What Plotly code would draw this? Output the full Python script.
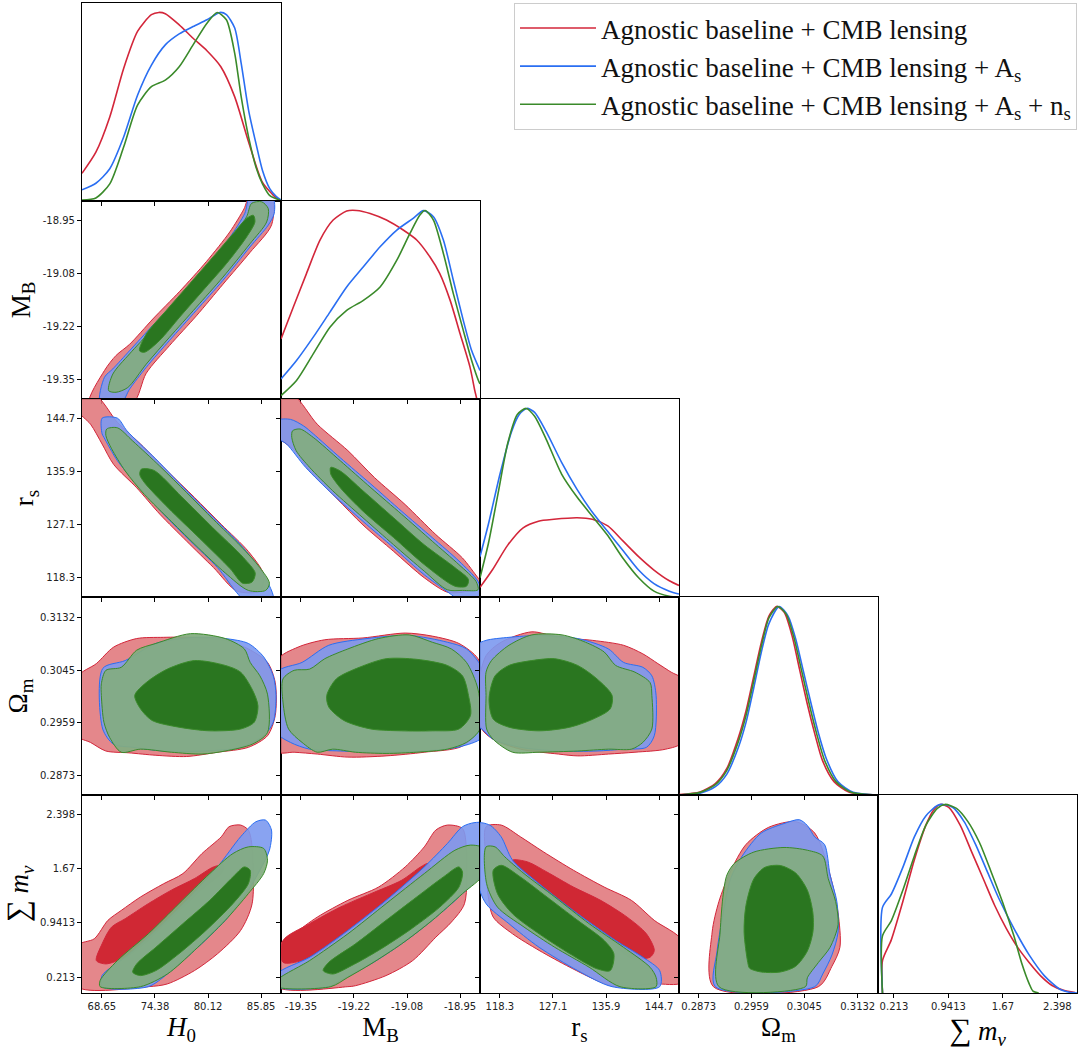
import plotly.graph_objects as go
from plotly.subplots import make_subplots

# ---------------- parameters / axes ----------------
PARAMS = ["H0", "MB", "rs", "Om", "mnu"]
RANGES = {"H0": [66.5, 88.0], "MB": [-19.40, -18.90], "rs": [115.0, 148.0],
          "Om": [0.2841, 0.3165], "mnu": [0.0, 2.66]}
TICKVALS = {"H0": [68.65, 74.38, 80.12, 85.85], "MB": [-19.35, -19.2167, -19.0833, -18.95],
            "rs": [118.3, 127.1, 135.9, 144.7], "Om": [0.2873, 0.2959, 0.3045, 0.3132],
            "mnu": [0.213, 0.9413, 1.67, 2.398]}
TICKTEXT = {"H0": ["68.65", "74.38", "80.12", "85.85"], "MB": ["-19.35", "-19.22", "-19.08", "-18.95"],
            "rs": ["118.3", "127.1", "135.9", "144.7"], "Om": ["0.2873", "0.2959", "0.3045", "0.3132"],
            "mnu": ["0.213", "0.9413", "1.67", "2.398"]}
LABELS = {"H0": "<i>H</i><sub>0</sub>", "MB": "M<sub>B</sub>", "rs": "r<sub>s</sub>",
          "Om": "Ω<sub>m</sub>",
          "mnu": "<span style='font-size:31px'>∑</span> <i>m</i><sub><i>ν</i></sub>"}
SERIES = ["Agnostic baseline + CMB lensing",
          "Agnostic baseline + CMB lensing + A<sub>s</sub>",
          "Agnostic baseline + CMB lensing + A<sub>s</sub> + n<sub>s</sub>"]

# ---------------- 1D marginals ----------------
h0_red_x = [66.5, 68.0, 69.5, 71.0, 72.5, 74.0, 74.8, 75.5, 77.0, 78.5, 80.0, 81.5, 83.0, 84.5, 86.0, 87.5, 88.0]
h0_red_y = [0.147, 0.259, 0.446, 0.703, 0.899, 0.988, 1.0, 0.993, 0.934, 0.863, 0.797, 0.712, 0.552, 0.313, 0.099, 0.016, 0.002]
h0_blue_x = [66.5, 68.0, 69.5, 71.0, 72.5, 74.0, 75.5, 77.0, 78.5, 80.0, 81.4, 82.1, 83.0, 83.7, 84.5, 85.3, 86.0, 86.8, 87.5, 88.0]
h0_blue_y = [0.059, 0.094, 0.171, 0.339, 0.561, 0.721, 0.828, 0.886, 0.925, 0.961, 1.0, 0.988, 0.917, 0.730, 0.481, 0.304, 0.162, 0.064, 0.023, 0.005]
h0_green_x = [66.5, 68.0, 69.5, 71.0, 72.5, 74.0, 75.5, 77.0, 78.5, 80.0, 81.1, 82.1, 83.0, 83.7, 84.5, 85.3, 86.0, 86.8, 88.0]
h0_green_y = [0.005, 0.016, 0.091, 0.286, 0.508, 0.606, 0.641, 0.712, 0.828, 0.943, 1.0, 0.961, 0.783, 0.552, 0.339, 0.179, 0.091, 0.028, 0.002]

mb_red_x = [-19.40, -19.369, -19.336, -19.302, -19.269, -19.235, -19.21, -19.176, -19.135, -19.093, -19.059, -19.026, -19.001, -18.975, -18.95, -18.925, -18.913, -18.908]
mb_red_y = [0.319, 0.488, 0.665, 0.843, 0.949, 0.997, 1.0, 0.984, 0.949, 0.896, 0.843, 0.754, 0.665, 0.523, 0.346, 0.168, 0.044, 0.0]
mb_blue_x = [-19.40, -19.361, -19.319, -19.277, -19.235, -19.193, -19.151, -19.109, -19.068, -19.042, -19.017, -18.992, -18.967, -18.942, -18.921, -18.90]
mb_blue_y = [0.106, 0.204, 0.328, 0.461, 0.594, 0.701, 0.807, 0.896, 0.958, 0.999, 0.967, 0.843, 0.63, 0.417, 0.257, 0.151]
mb_green_x = [-19.40, -19.361, -19.319, -19.277, -19.235, -19.193, -19.151, -19.109, -19.076, -19.051, -19.038, -19.017, -18.992, -18.967, -18.942, -18.921, -18.904, -18.90]
mb_green_y = [0.018, 0.098, 0.239, 0.381, 0.47, 0.523, 0.594, 0.736, 0.878, 0.976, 1.0, 0.949, 0.772, 0.559, 0.364, 0.204, 0.098, 0.08]

rs_red_x = [115.0, 117.04, 119.6, 122.15, 124.70, 127.26, 131.09, 133.64, 136.19, 138.74, 141.30, 143.85, 146.40, 148.0]
rs_red_y = [0.051, 0.143, 0.275, 0.367, 0.402, 0.412, 0.42, 0.412, 0.377, 0.296, 0.214, 0.143, 0.086, 0.061]
rs_blue_x = [115.0, 116.4, 118.32, 120.23, 121.51, 122.79, 124.06, 125.98, 128.53, 131.09, 133.64, 136.19, 138.74, 141.30, 143.85, 146.40, 148.0]
rs_blue_y = [0.214, 0.387, 0.652, 0.877, 0.968, 1.0, 0.979, 0.877, 0.714, 0.571, 0.449, 0.347, 0.245, 0.143, 0.071, 0.031, 0.016]
rs_green_x = [115.0, 116.4, 118.0, 119.6, 121.19, 122.66, 124.06, 125.98, 128.53, 131.09, 133.64, 136.19, 138.74, 141.30, 143.85, 146.40, 148.0]
rs_green_y = [0.102, 0.285, 0.55, 0.815, 0.968, 1.0, 0.958, 0.836, 0.652, 0.53, 0.428, 0.326, 0.204, 0.102, 0.031, 0.004, 0.0]

om_red_x = [0.2841, 0.28753, 0.29002, 0.29189, 0.29376, 0.295, 0.29625, 0.2975, 0.29874, 0.29999, 0.30124, 0.30248, 0.30373, 0.30497, 0.30622, 0.30747, 0.30934, 0.31183, 0.3165]
om_red_y = [0.002, 0.016, 0.061, 0.141, 0.303, 0.444, 0.626, 0.808, 0.949, 1.0, 0.969, 0.848, 0.666, 0.485, 0.323, 0.182, 0.071, 0.014, 0.0]
om_blue_x = [0.2841, 0.28753, 0.29002, 0.29189, 0.29376, 0.295, 0.29625, 0.2975, 0.29874, 0.30042, 0.30186, 0.3031, 0.30435, 0.3056, 0.30684, 0.30809, 0.30996, 0.31245, 0.3165]
om_blue_y = [0.0, 0.010, 0.044, 0.111, 0.252, 0.384, 0.565, 0.757, 0.909, 1.0, 0.949, 0.828, 0.656, 0.485, 0.323, 0.192, 0.071, 0.014, 0.0]
om_green_x = [0.2841, 0.28753, 0.29002, 0.29189, 0.29376, 0.295, 0.29625, 0.2975, 0.29874, 0.30018, 0.30155, 0.30279, 0.30404, 0.30528, 0.30653, 0.30778, 0.30965, 0.31214, 0.3165]
om_green_y = [0.0, 0.014, 0.055, 0.131, 0.283, 0.42, 0.602, 0.788, 0.939, 1.0, 0.959, 0.838, 0.662, 0.485, 0.323, 0.186, 0.071, 0.014, 0.0]

mnu_red_x = [0.06, 0.06, 0.179, 0.332, 0.486, 0.639, 0.742, 0.834, 0.946, 1.100, 1.253, 1.407, 1.560, 1.714, 1.867, 2.020, 2.174, 2.327, 2.481, 2.634]
mnu_red_y = [0.0, 0.172, 0.283, 0.485, 0.707, 0.889, 0.969, 1.0, 0.985, 0.889, 0.747, 0.606, 0.464, 0.343, 0.242, 0.162, 0.091, 0.04, 0.014, 0.002]
mnu_blue_x = [0.06, 0.06, 0.179, 0.332, 0.486, 0.639, 0.793, 0.870, 0.997, 1.151, 1.304, 1.458, 1.611, 1.816, 2.020, 2.225, 2.430, 2.558, 2.66]
mnu_blue_y = [0.0, 0.454, 0.525, 0.666, 0.828, 0.939, 0.994, 1.0, 0.985, 0.909, 0.788, 0.646, 0.505, 0.343, 0.202, 0.091, 0.02, 0.004, 0.0]
mnu_green_x = [0.06, 0.06, 0.179, 0.332, 0.486, 0.639, 0.793, 0.895, 1.049, 1.202, 1.356, 1.509, 1.662, 1.816, 1.918, 2.020, 2.072, 2.148]
mnu_green_y = [0.0, 0.303, 0.384, 0.545, 0.727, 0.889, 0.979, 1.0, 0.979, 0.909, 0.798, 0.646, 0.485, 0.303, 0.162, 0.05, 0.01, 0.0]

# ---------------- 2D contours (68% / 95%) ----------------
# H0 vs MB
h0mb_red_out_x = [67.3, 68.93, 70.18, 71.64, 74.15, 77.06, 79.94, 82.47, 84.0, 84.6, 86.99, 86.99, 84.65, 81.74, 78.86, 75.96, 73.44, 72.0]
h0mb_red_out_y = [-19.41, -19.328, -19.29, -19.262, -19.198, -19.128, -19.053, -18.978, -18.92, -18.89, -18.89, -18.96, -19.03, -19.11, -19.19, -19.265, -19.335, -19.41]
h0mb_blue_out_x = [68.46, 68.93, 69.83, 71.64, 74.15, 77.06, 79.94, 82.47, 84.09, 84.65, 87.10, 87.27, 86.62, 84.65, 81.74, 78.86, 75.96, 73.44, 71.64, 70.74]
h0mb_blue_out_y = [-19.41, -19.345, -19.324, -19.278, -19.214, -19.143, -19.067, -18.992, -18.931, -18.89, -18.89, -18.931, -18.961, -19.016, -19.10, -19.176, -19.252, -19.32, -19.375, -19.41]
h0mb_green_out_x = [69.38, 69.83, 71.64, 74.15, 77.06, 79.94, 82.47, 84.28, 84.82, 85.91, 86.62, 86.45, 84.65, 81.74, 78.86, 75.96, 73.44, 71.45, 70.18]
h0mb_green_out_y = [-19.379, -19.337, -19.286, -19.223, -19.151, -19.075, -18.999, -18.94, -18.906, -18.902, -18.919, -18.953, -19.008, -19.092, -19.168, -19.244, -19.312, -19.371, -19.383]
h0mb_green_in_x = [72.71, 73.44, 75.62, 78.13, 80.67, 82.84, 84.28, 85.01, 85.18, 84.28, 82.11, 79.57, 77.06, 74.89, 73.25]
h0mb_green_in_y = [-19.278, -19.236, -19.176, -19.109, -19.041, -18.982, -18.944, -18.936, -18.953, -18.991, -19.058, -19.126, -19.193, -19.252, -19.282]

# H0 vs rs
h0rs_red_out_x = [66.0, 68.05, 70.33, 72.82, 75.72, 78.65, 81.55, 84.47, 86.13, 85.72, 83.23, 80.71, 77.81, 74.91, 72.41, 69.92, 68.67, 67.42, 66.0]
h0rs_red_out_y = [148.5, 148.5, 144.1, 140.5, 136.0, 131.6, 127.1, 122.6, 118.7, 116.0, 116.0, 119.9, 124.3, 128.8, 133.2, 137.1, 140.5, 143.8, 146.1]
h0rs_blue_out_x = [68.67, 70.33, 71.36, 74.48, 77.81, 80.71, 83.64, 86.13, 87.16, 84.04, 83.23, 81.14, 78.22, 75.32, 72.41, 70.33, 68.87, 68.67]
h0rs_blue_out_y = [144.8, 144.8, 142.7, 138.0, 132.7, 128.2, 123.7, 118.7, 114.5, 114.5, 115.7, 119.9, 124.3, 128.8, 133.8, 137.7, 141.6, 142.2]
h0rs_green_out_x = [69.17, 70.33, 71.98, 74.91, 77.81, 80.71, 83.64, 85.72, 86.75, 86.34, 84.47, 81.98, 79.06, 76.15, 73.23, 71.17, 69.70, 69.08]
h0rs_green_out_y = [143.0, 143.2, 141.0, 136.8, 132.4, 127.9, 123.5, 119.9, 117.3, 116.1, 116.1, 119.0, 123.2, 127.6, 132.1, 136.0, 139.7, 141.9]
h0rs_green_in_x = [72.91, 74.28, 77.27, 80.60, 83.92, 85.21, 84.88, 83.85, 82.52, 79.19, 75.85, 73.23, 72.74]
h0rs_green_in_y = [136.3, 136.1, 131.7, 126.6, 121.6, 119.0, 117.5, 117.3, 119.7, 124.8, 129.8, 134.1, 135.4]

# MB vs rs
mbrs_red_out_x = [-19.41, -19.367, -19.309, -19.232, -19.165, -19.088, -19.011, -18.944, -18.905, -18.89, -18.944, -18.982, -19.04, -19.117, -19.194, -19.261, -19.328, -19.367, -19.41]
mbrs_red_out_y = [148.5, 148.5, 143.8, 139.4, 134.9, 130.4, 125.4, 121.5, 118.2, 117.1, 115.8, 115.8, 118.2, 122.6, 127.0, 131.5, 136.0, 139.5, 142.0]
mbrs_blue_out_x = [-19.41, -19.376, -19.343, -19.319, -19.251, -19.174, -19.097, -19.02, -18.953, -18.905, -18.89, -18.953, -18.972, -19.04, -19.117, -19.194, -19.27, -19.338, -19.386, -19.41]
mbrs_blue_out_y = [144.4, 144.6, 143.5, 142.2, 138.2, 133.8, 129.3, 124.9, 121.0, 117.6, 114.5, 114.5, 115.4, 118.7, 123.2, 127.6, 132.1, 136.6, 140.5, 141.6]
mbrs_green_out_x = [-19.371, -19.352, -19.319, -19.251, -19.174, -19.097, -19.02, -18.953, -18.91, -18.905, -18.944, -18.982, -19.04, -19.117, -19.194, -19.27, -19.328, -19.362, -19.373]
mbrs_green_out_y = [142.7, 143.0, 141.6, 137.7, 133.2, 128.8, 124.3, 120.4, 117.6, 116.2, 116.1, 116.2, 119.3, 123.7, 128.2, 132.7, 136.6, 139.4, 141.6]
mbrs_green_in_x = [-19.275, -19.251, -19.194, -19.117, -19.04, -18.963, -18.929, -18.934, -18.963, -19.04, -19.117, -19.194, -19.251, -19.275]
mbrs_green_in_y = [136.6, 136.0, 132.7, 128.2, 123.7, 119.9, 117.9, 116.8, 116.8, 120.4, 124.9, 129.3, 133.2, 135.5]

# H0 vs Om
h0om_red_out_x = [66.0, 68.05, 69.92, 72.41, 75.32, 78.65, 81.98, 84.47, 86.54, 87.38, 87.38, 86.54, 84.47, 81.14, 77.81, 74.48, 71.57, 69.08, 67.42, 66.0]
h0om_red_out_y = [0.3034, 0.3056, 0.3083, 0.3097, 0.3099, 0.3099, 0.3094, 0.3080, 0.3058, 0.3025, 0.2971, 0.2938, 0.2919, 0.2911, 0.2904, 0.2906, 0.2910, 0.2913, 0.2927, 0.2938]
h0om_blue_out_x = [68.74, 71.17, 74.48, 78.65, 81.98, 84.47, 86.13, 87.16, 87.46, 87.16, 86.13, 83.64, 79.89, 75.32, 71.98, 69.92, 68.74]
h0om_blue_out_y = [0.3048, 0.3061, 0.3089, 0.3099, 0.3097, 0.3089, 0.3067, 0.3036, 0.3004, 0.2960, 0.2938, 0.2919, 0.2913, 0.2913, 0.2919, 0.2924, 0.2949]
h0om_green_out_x = [68.59, 69.08, 70.74, 72.41, 74.48, 78.22, 81.98, 84.04, 84.67, 85.72, 86.54, 86.54, 84.88, 81.98, 79.46, 76.15, 72.82, 70.74, 69.49, 68.87, 68.59]
h0om_green_out_y = [0.3023, 0.3045, 0.3050, 0.3078, 0.3089, 0.3105, 0.3097, 0.3080, 0.3058, 0.3036, 0.3006, 0.2943, 0.2924, 0.2913, 0.2908, 0.2911, 0.2916, 0.2911, 0.2935, 0.2960, 0.3004]
h0om_green_in_x = [72.2, 73.44, 75.72, 78.65, 81.98, 83.64, 84.88, 85.51, 85.10, 83.64, 80.30, 76.97, 74.07, 72.82]
h0om_green_in_y = [0.3004, 0.3025, 0.3047, 0.3061, 0.3053, 0.3042, 0.3014, 0.2987, 0.2960, 0.2949, 0.2946, 0.2952, 0.2963, 0.2982]

# MB vs Om
mbom_red_out_x = [-19.41, -19.357, -19.29, -19.194, -19.088, -19.02, -18.953, -18.905, -18.89, -18.89, -18.944, -19.04, -19.136, -19.232, -19.309, -19.367, -19.41]
mbom_red_out_y = [0.3061, 0.3083, 0.3095, 0.3098, 0.3106, 0.3101, 0.3089, 0.3064, 0.3025, 0.2960, 0.2921, 0.2911, 0.2905, 0.2903, 0.2908, 0.2911, 0.2912]
mbom_blue_out_x = [-19.41, -19.347, -19.28, -19.184, -19.078, -18.982, -18.934, -18.89, -18.89, -18.944, -19.04, -19.155, -19.251, -19.328, -19.376, -19.41]
mbom_blue_out_y = [0.3042, 0.3058, 0.3086, 0.3097, 0.3102, 0.3091, 0.3080, 0.3042, 0.2938, 0.2921, 0.2913, 0.2911, 0.2913, 0.2916, 0.2927, 0.2943]
mbom_green_out_x = [-19.395, -19.367, -19.328, -19.29, -19.232, -19.155, -19.078, -19.02, -18.972, -18.934, -18.905, -18.90, -18.934, -18.982, -19.059, -19.136, -19.213, -19.27, -19.309, -19.347, -19.381, -19.395]
mbom_green_out_y = [0.3031, 0.3045, 0.3047, 0.3064, 0.3080, 0.3097, 0.3103, 0.3091, 0.3080, 0.3058, 0.3014, 0.2949, 0.2927, 0.2916, 0.2911, 0.2909, 0.2911, 0.2916, 0.2911, 0.2927, 0.2949, 0.2993]
mbom_green_in_x = [-19.285, -19.261, -19.203, -19.136, -19.059, -18.982, -18.944, -18.929, -18.924, -18.953, -19.02, -19.097, -19.174, -19.242, -19.28]
mbom_green_in_y = [0.3004, 0.3031, 0.3050, 0.3064, 0.3063, 0.3053, 0.3036, 0.3004, 0.2971, 0.2949, 0.2946, 0.2946, 0.2949, 0.2963, 0.2985]

# rs vs Om
rsom_red_out_x = [118.5, 123.6, 128.0, 133.7, 138.8, 142.0, 144.5, 146.7, 148.5, 148.5, 145.8, 140.7, 136.3, 131.2, 128.0, 121.7, 117.2, 115.3, 114.5, 116.0]
rsom_red_out_y = [0.3091, 0.3108, 0.3099, 0.3094, 0.3086, 0.3072, 0.3056, 0.3042, 0.3031, 0.2927, 0.2916, 0.2911, 0.2908, 0.2905, 0.2908, 0.2916, 0.2932, 0.2949, 0.3004, 0.3069]
rsom_blue_out_x = [114.5, 116.0, 119.8, 124.8, 131.2, 136.3, 138.8, 142.0, 143.5, 144.2, 143.9, 142.6, 138.8, 134.4, 128.0, 121.7, 117.2, 115.3, 114.5]
rsom_blue_out_y = [0.3086, 0.3094, 0.3099, 0.3102, 0.3097, 0.3080, 0.3058, 0.3050, 0.3036, 0.3004, 0.2938, 0.2919, 0.2916, 0.2913, 0.2913, 0.2919, 0.2932, 0.2949, 0.2954]
rsom_green_out_x = [116.0, 116.9, 119.8, 123.6, 128.6, 132.5, 135.6, 137.5, 140.7, 143.2, 143.5, 143.5, 142.0, 140.1, 136.3, 131.2, 124.8, 120.4, 117.2, 116.1, 116.0]
rsom_green_out_y = [0.3042, 0.3061, 0.3086, 0.3103, 0.3103, 0.3091, 0.3075, 0.3053, 0.3042, 0.3025, 0.3004, 0.2949, 0.2927, 0.2916, 0.2916, 0.2913, 0.2911, 0.2911, 0.2932, 0.2949, 0.3004]
rsom_green_in_x = [116.5, 117.5, 119.8, 123.6, 127.4, 131.2, 134.4, 136.9, 136.6, 133.7, 129.9, 124.8, 119.8, 117.2]
rsom_green_in_y = [0.2998, 0.3036, 0.3053, 0.3061, 0.3064, 0.3053, 0.3031, 0.3004, 0.2982, 0.2965, 0.2952, 0.2946, 0.2952, 0.2965]

# H0 vs mnu
h0mnu_red_out_x = [66.0, 67.83, 69.3, 70.74, 72.82, 75.32, 77.4, 79.46, 81.55, 82.39, 83.64, 84.47, 84.88, 84.88, 83.64, 81.14, 78.65, 75.72, 73.66, 66.0]
h0mnu_red_out_y = [0.638, 0.729, 0.976, 1.109, 1.290, 1.468, 1.604, 1.873, 2.099, 2.234, 2.256, 2.189, 1.963, 1.20, 0.841, 0.527, 0.301, 0.122, 0.085, 0.085]
h0mnu_red_in_x = [68.05, 68.67, 69.7, 71.17, 73.66, 76.15, 78.65, 80.71, 81.77, 81.6, 79.5, 77.8, 75.5, 73.2, 71.17, 69.08]
h0mnu_red_in_y = [0.436, 0.660, 0.886, 0.998, 1.20, 1.381, 1.537, 1.694, 1.716, 1.62, 1.40, 1.20, 0.93, 0.66, 0.481, 0.391]
h0mnu_blue_out_x = [68.67, 68.67, 71.17, 74.48, 77.81, 81.14, 83.64, 85.29, 86.34, 86.97, 86.75, 85.72, 84.47, 81.98, 78.65, 75.72, 73.66]
h0mnu_blue_out_y = [0.085, 0.234, 0.481, 0.841, 1.245, 1.694, 2.099, 2.301, 2.322, 2.189, 1.918, 1.649, 1.381, 0.976, 0.572, 0.255, 0.085]
h0mnu_green_out_x = [68.46, 68.46, 70.33, 73.66, 76.97, 80.30, 82.8, 84.47, 86.13, 86.54, 86.13, 84.47, 81.98, 78.65, 75.72, 72.82]
h0mnu_green_out_y = [0.085, 0.168, 0.436, 0.795, 1.20, 1.604, 1.873, 1.963, 1.942, 1.785, 1.604, 1.335, 0.976, 0.572, 0.255, 0.085]
h0mnu_green_in_x = [71.98, 72.41, 74.48, 77.4, 80.3, 82.8, 84.04, 84.67, 84.47, 82.8, 79.89, 76.97, 74.48, 72.82]
h0mnu_green_in_y = [0.279, 0.391, 0.614, 0.931, 1.245, 1.559, 1.694, 1.649, 1.468, 1.20, 0.841, 0.527, 0.301, 0.234]

# MB vs mnu
mbmnu_red_out_x = [-19.41, -19.367, -19.309, -19.232, -19.155, -19.088, -19.04, -19.011, -18.982, -18.944, -18.934, -18.939, -18.972, -19.011, -19.069, -19.136, -19.213, -19.232, -19.41]
mbmnu_red_out_y = [0.614, 0.795, 1.019, 1.245, 1.423, 1.694, 1.963, 2.189, 2.256, 2.210, 1.918, 1.20, 0.952, 0.750, 0.436, 0.234, 0.098, 0.085, 0.085]
mbmnu_red_in_x = [-19.395, -19.395, -19.328, -19.251, -19.174, -19.097, -19.049, -19.03, -19.025, -19.07, -19.14, -19.23, -19.30, -19.347]
mbmnu_red_in_y = [0.412, 0.705, 0.931, 1.154, 1.335, 1.514, 1.694, 1.74, 1.62, 1.45, 1.20, 0.84, 0.56, 0.436]
mbmnu_blue_out_x = [-19.41, -19.41, -19.328, -19.232, -19.136, -19.04, -18.982, -18.944, -18.915, -18.89, -18.89, -18.944, -19.02, -19.097, -19.174, -19.251, -19.28]
mbmnu_blue_out_y = [0.085, 0.255, 0.481, 0.841, 1.245, 1.694, 2.008, 2.234, 2.288, 2.277, 1.649, 1.335, 0.976, 0.66, 0.391, 0.168, 0.085]
mbmnu_green_out_x = [-19.41, -19.41, -19.328, -19.232, -19.136, -19.04, -18.963, -18.924, -18.89, -18.89, -18.944, -19.02, -19.097, -19.174, -19.232, -19.275]
mbmnu_green_out_y = [0.085, 0.168, 0.436, 0.795, 1.20, 1.604, 1.918, 1.987, 1.942, 1.604, 1.335, 0.976, 0.66, 0.391, 0.21, 0.085]
mbmnu_green_in_x = [-19.294, -19.28, -19.213, -19.136, -19.059, -18.992, -18.953, -18.944, -18.953, -19.001, -19.078, -19.155, -19.222, -19.27]
mbmnu_green_in_y = [0.301, 0.412, 0.66, 0.976, 1.29, 1.559, 1.694, 1.625, 1.423, 1.154, 0.841, 0.572, 0.37, 0.255]

# rs vs mnu
rsmnu_red_out_x = [116.0, 118.5, 121.7, 125.5, 130.5, 135.6, 140.1, 143.9, 148.5, 148.5, 143.9, 137.5, 134.4, 129.9, 124.8, 120.4, 117.2, 116.3, 116.0]
rsmnu_red_out_y = [2.234, 2.256, 2.099, 1.897, 1.649, 1.423, 1.245, 0.976, 0.705, 0.144, 0.122, 0.085, 0.168, 0.346, 0.572, 0.795, 1.019, 1.335, 1.785]
rsmnu_red_in_x = [120.4, 122.9, 126.1, 130.5, 135.0, 139.4, 142.6, 143.9, 143.2, 140.1, 136.3, 131.2, 126.1, 122.3, 120.4]
rsmnu_red_in_y = [1.785, 1.761, 1.625, 1.423, 1.245, 1.019, 0.795, 0.572, 0.481, 0.47, 0.72, 1.03, 1.33, 1.58, 1.72]
rsmnu_blue_out_x = [114.5, 116.6, 118.5, 120.4, 124.8, 131.2, 137.5, 142.0, 144.8, 144.8, 136.9, 131.2, 124.8, 119.8, 116.0, 114.5]
rsmnu_blue_out_y = [2.277, 2.256, 2.099, 1.785, 1.468, 1.064, 0.705, 0.481, 0.301, 0.085, 0.085, 0.301, 0.614, 0.931, 1.20, 1.514]
rsmnu_green_out_x = [116.0, 117.5, 119.1, 122.3, 127.4, 133.1, 138.8, 143.2, 144.2, 144.2, 138.2, 133.1, 127.4, 122.3, 117.9, 116.1]
rsmnu_green_out_y = [1.963, 1.963, 1.830, 1.604, 1.29, 0.931, 0.614, 0.346, 0.21, 0.085, 0.085, 0.346, 0.614, 0.886, 1.154, 1.468]
rsmnu_green_in_x = [117.2, 118.5, 121.7, 126.1, 131.2, 135.6, 137.2, 136.6, 134.4, 129.9, 124.8, 120.4, 117.9]
rsmnu_green_in_y = [1.649, 1.716, 1.559, 1.29, 0.976, 0.705, 0.527, 0.301, 0.325, 0.527, 0.795, 1.064, 1.335]

# Om vs mnu
ommnu_red_out_x = [0.2897, 0.2895, 0.2906, 0.2925, 0.2950, 0.2987, 0.3031, 0.3062, 0.3087, 0.3100, 0.3103, 0.3090, 0.3068]
ommnu_red_out_y = [0.085, 0.819, 1.229, 1.636, 1.995, 2.226, 2.301, 2.149, 1.585, 1.075, 0.614, 0.359, 0.085]
ommnu_blue_out_x = [0.2900, 0.2903, 0.2913, 0.2925, 0.2944, 0.2975, 0.3012, 0.3037, 0.3050, 0.3062, 0.3078, 0.3087, 0.3098, 0.3100, 0.3090, 0.3075, 0.3062]
ommnu_blue_out_y = [0.085, 0.564, 1.075, 1.535, 1.841, 2.149, 2.277, 2.328, 2.25, 2.096, 1.995, 1.585, 1.229, 0.819, 0.511, 0.255, 0.085]
ommnu_green_out_x = [0.2906, 0.2908, 0.2913, 0.2919, 0.2931, 0.2963, 0.3012, 0.3050, 0.3075, 0.3084, 0.3096, 0.3100, 0.3087, 0.3068, 0.3050, 0.3047]
ommnu_green_out_y = [0.085, 0.819, 1.33, 1.585, 1.74, 1.894, 1.955, 1.918, 1.841, 1.535, 1.229, 0.92, 0.614, 0.41, 0.205, 0.085]
ommnu_green_in_x = [0.2953, 0.2947, 0.2950, 0.2963, 0.2981, 0.3006, 0.3031, 0.3050, 0.3059, 0.3059, 0.3050, 0.3031, 0.3006, 0.2975, 0.2956]
ommnu_green_in_y = [0.41, 0.819, 1.176, 1.535, 1.689, 1.713, 1.612, 1.381, 1.075, 0.819, 0.564, 0.359, 0.282, 0.282, 0.333]

# ---------------- styling ----------------
LINE = ["#d3263a", "#2a6ef2", "#3a8a2a"]
RED_OUT, RED_IN = "rgba(224,118,123,0.88)", "rgb(208,40,52)"
BLUE_OUT = "rgba(124,153,240,0.9)"
GREEN_OUT, GREEN_IN = "rgba(130,172,128,0.93)", "rgb(42,118,32)"
TICKFONT = dict(family="DejaVu Sans", size=10, color="#222222")
TITLEFONT = dict(family="Liberation Serif", size=27, color="black")

fig = make_subplots(rows=5, cols=5,
                    specs=[[{} if c <= r else None for c in range(5)] for r in range(5)],
                    horizontal_spacing=0, vertical_spacing=0)

diag = [
    [(h0_red_x, h0_red_y), (h0_blue_x, h0_blue_y), (h0_green_x, h0_green_y)],
    [(mb_red_x, mb_red_y), (mb_blue_x, mb_blue_y), (mb_green_x, mb_green_y)],
    [(rs_red_x, rs_red_y), (rs_blue_x, rs_blue_y), (rs_green_x, rs_green_y)],
    [(om_red_x, om_red_y), (om_blue_x, om_blue_y), (om_green_x, om_green_y)],
    [(mnu_red_x, mnu_red_y), (mnu_blue_x, mnu_blue_y), (mnu_green_x, mnu_green_y)],
]
for k, curves in enumerate(diag):
    for s, (xs, ys) in enumerate(curves):
        fig.add_trace(go.Scatter(x=xs, y=ys, mode="lines", name=SERIES[s],
                                 legendgroup="g%d" % s, showlegend=(k == 0),
                                 line=dict(color=LINE[s], width=1.6, shape="spline", smoothing=0.7),
                                 hoverinfo="skip"), row=k + 1, col=k + 1)

R, B, G = LINE
panels = [
    (2, 1, [(h0mb_red_out_x, h0mb_red_out_y, RED_OUT, R), (h0mb_blue_out_x, h0mb_blue_out_y, BLUE_OUT, B),
            (h0mb_green_out_x, h0mb_green_out_y, GREEN_OUT, G), (h0mb_green_in_x, h0mb_green_in_y, GREEN_IN, G)]),
    (3, 1, [(h0rs_red_out_x, h0rs_red_out_y, RED_OUT, R), (h0rs_blue_out_x, h0rs_blue_out_y, BLUE_OUT, B),
            (h0rs_green_out_x, h0rs_green_out_y, GREEN_OUT, G), (h0rs_green_in_x, h0rs_green_in_y, GREEN_IN, G)]),
    (3, 2, [(mbrs_red_out_x, mbrs_red_out_y, RED_OUT, R), (mbrs_blue_out_x, mbrs_blue_out_y, BLUE_OUT, B),
            (mbrs_green_out_x, mbrs_green_out_y, GREEN_OUT, G), (mbrs_green_in_x, mbrs_green_in_y, GREEN_IN, G)]),
    (4, 1, [(h0om_red_out_x, h0om_red_out_y, RED_OUT, R), (h0om_blue_out_x, h0om_blue_out_y, BLUE_OUT, B),
            (h0om_green_out_x, h0om_green_out_y, GREEN_OUT, G), (h0om_green_in_x, h0om_green_in_y, GREEN_IN, G)]),
    (4, 2, [(mbom_red_out_x, mbom_red_out_y, RED_OUT, R), (mbom_blue_out_x, mbom_blue_out_y, BLUE_OUT, B),
            (mbom_green_out_x, mbom_green_out_y, GREEN_OUT, G), (mbom_green_in_x, mbom_green_in_y, GREEN_IN, G)]),
    (4, 3, [(rsom_red_out_x, rsom_red_out_y, RED_OUT, R), (rsom_blue_out_x, rsom_blue_out_y, BLUE_OUT, B),
            (rsom_green_out_x, rsom_green_out_y, GREEN_OUT, G), (rsom_green_in_x, rsom_green_in_y, GREEN_IN, G)]),
    (5, 1, [(h0mnu_red_out_x, h0mnu_red_out_y, RED_OUT, R), (h0mnu_red_in_x, h0mnu_red_in_y, RED_IN, R),
            (h0mnu_blue_out_x, h0mnu_blue_out_y, BLUE_OUT, B),
            (h0mnu_green_out_x, h0mnu_green_out_y, GREEN_OUT, G), (h0mnu_green_in_x, h0mnu_green_in_y, GREEN_IN, G)]),
    (5, 2, [(mbmnu_red_out_x, mbmnu_red_out_y, RED_OUT, R), (mbmnu_red_in_x, mbmnu_red_in_y, RED_IN, R),
            (mbmnu_blue_out_x, mbmnu_blue_out_y, BLUE_OUT, B),
            (mbmnu_green_out_x, mbmnu_green_out_y, GREEN_OUT, G), (mbmnu_green_in_x, mbmnu_green_in_y, GREEN_IN, G)]),
    (5, 3, [(rsmnu_red_out_x, rsmnu_red_out_y, RED_OUT, R), (rsmnu_red_in_x, rsmnu_red_in_y, RED_IN, R),
            (rsmnu_blue_out_x, rsmnu_blue_out_y, BLUE_OUT, B),
            (rsmnu_green_out_x, rsmnu_green_out_y, GREEN_OUT, G), (rsmnu_green_in_x, rsmnu_green_in_y, GREEN_IN, G)]),
    (5, 4, [(ommnu_red_out_x, ommnu_red_out_y, RED_OUT, R), (ommnu_blue_out_x, ommnu_blue_out_y, BLUE_OUT, B),
            (ommnu_green_out_x, ommnu_green_out_y, GREEN_OUT, G), (ommnu_green_in_x, ommnu_green_in_y, GREEN_IN, G)]),
]
for row, col, contours in panels:
    for xs, ys, fillc, linec in contours:
        fig.add_trace(go.Scatter(x=list(xs) + [xs[0]], y=list(ys) + [ys[0]], mode="lines",
                                 fill="toself", fillcolor=fillc, showlegend=False, hoverinfo="skip",
                                 line=dict(color=linec, width=1, shape="spline", smoothing=0.8)),
                      row=row, col=col)

for r in range(5):
    for c in range(r + 1):
        xp = PARAMS[c]
        xa = dict(range=RANGES[xp], tickvals=TICKVALS[xp], ticktext=TICKTEXT[xp], ticks="outside",
                  ticklen=4, tickwidth=1, tickcolor="black", showticklabels=(r == 4), tickfont=TICKFONT,
                  showline=True, mirror=True, linecolor="black", linewidth=1, showgrid=False,
                  zeroline=False, automargin=False, fixedrange=True)
        if r == 4:
            xa["title"] = dict(text=LABELS[xp], font=TITLEFONT, standoff=6)
        fig.update_xaxes(**xa, row=r + 1, col=c + 1)
        if r == c:
            ya = dict(range=[0, 1.05], showticklabels=False, ticks="", showline=True, mirror=True,
                      linecolor="black", linewidth=1, showgrid=False, zeroline=False,
                      automargin=False, fixedrange=True)
        else:
            yp = PARAMS[r]
            ya = dict(range=RANGES[yp], tickvals=TICKVALS[yp], ticktext=TICKTEXT[yp], ticks="outside",
                      ticklen=4, tickwidth=1, tickcolor="black", showticklabels=(c == 0), tickfont=TICKFONT,
                      showline=True, mirror=True, linecolor="black", linewidth=1, showgrid=False,
                      zeroline=False, automargin=False, fixedrange=True)
            if c == 0:
                ya["title"] = dict(text=LABELS[yp], font=TITLEFONT, standoff=4)
        fig.update_yaxes(**ya, row=r + 1, col=c + 1)

fig.update_layout(
    template="none", width=1080, height=1051,
    margin=dict(l=82, r=3, t=3, b=58),
    paper_bgcolor="white", plot_bgcolor="white", hovermode=False,
    legend=dict(x=1, y=1, xanchor="right", yanchor="top", bgcolor="white",
                bordercolor="#cccccc", borderwidth=1, tracegroupgap=0, itemwidth=76,
                font=dict(family="Liberation Serif", size=27, color="#111111")),
)
fig.write_html("out.html")
